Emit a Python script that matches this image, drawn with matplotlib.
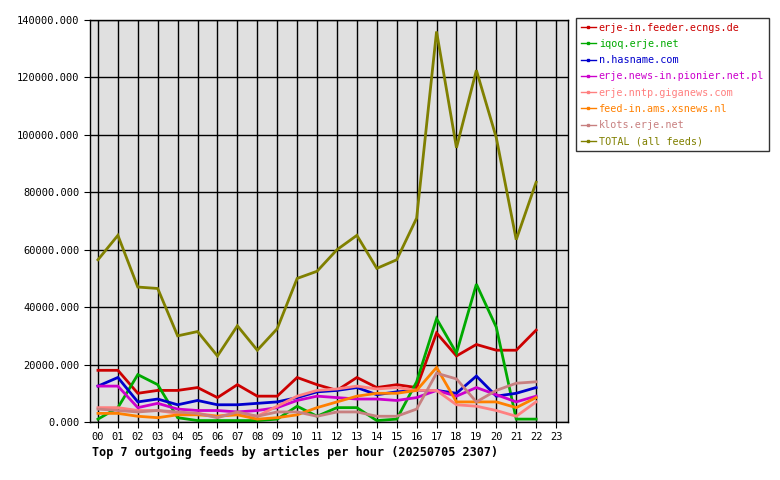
import matplotlib
matplotlib.use("Agg")
import matplotlib.pyplot as plt
from matplotlib.ticker import FuncFormatter

hours = list(range(23))
hour_labels = ["%02d" % h for h in range(24)]

feeds = ["erje-in.feeder.ecngs.de", "iqoq.erje.net", "n.hasname.com",
         "erje.news-in.pionier.net.pl", "erje.nntp.giganews.com",
         "feed-in.ams.xsnews.nl", "klots.erje.net", "TOTAL (all feeds)"]
colors = ["#cc0000", "#00aa00", "#0000cc", "#cc00cc", "#ff8080",
          "#ff8000", "#c88080", "#808000"]

ecngs = [18000, 18000, 10000, 11000, 11000, 12000, 8500, 13000, 9000, 9000, 15500, 13000,
         11000, 15500, 12000, 13000, 12000, 31000, 23000, 27000, 25000, 25000, 32000]
iqoq = [1000, 5000, 16500, 13000, 1500, 500, 500, 500, 500, 1000, 5500, 2000,
        5000, 5000, 500, 1000, 14000, 36000, 24000, 48000, 33000, 1000, 1000]
hasname = [12500, 15500, 7000, 8000, 6000, 7500, 6000, 6000, 6500, 7000, 8500, 10500,
           11000, 12000, 9500, 10500, 11000, 11000, 10000, 16000, 9000, 10000, 12000]
pionier = [12500, 12500, 5000, 6500, 4500, 4000, 4000, 3500, 4000, 5000, 7500, 9000,
           8500, 8000, 8000, 7500, 8500, 11000, 9000, 12000, 9500, 7000, 9000]
giganews = [5000, 5000, 4000, 4000, 3000, 3000, 2000, 3000, 2000, 5500, 9000, 11000,
            11500, 12500, 11500, 12000, 11000, 11000, 6000, 5500, 4000, 2000, 7000]
xsnews = [3000, 3000, 2000, 1500, 2500, 2500, 2000, 2500, 1000, 1500, 2500, 5000,
          7000, 9000, 10000, 10000, 11000, 19000, 7000, 7000, 7000, 5000, 8500]
klots = [4500, 4000, 3500, 4000, 3500, 3000, 1500, 3500, 2000, 3500, 3500, 2000,
         3500, 3500, 2000, 2000, 4500, 17000, 15000, 7000, 11000, 13500, 14000]
total = [56500, 65000, 47000, 46500, 30000, 31500, 23000, 33500, 25000, 32500, 50000, 52500,
         60000, 65000, 53500, 56500, 71000, 136000, 95500, 122500, 99000, 63500, 83500]

series = [ecngs, iqoq, hasname, pionier, giganews, xsnews, klots, total]

plt.rcParams["font.family"] = "DejaVu Sans Mono"
fig = plt.figure(figsize=(7.8, 4.8), dpi=100)
ax = fig.add_axes([90 / 780, 58 / 480, 478 / 780, 402 / 480])
ax.set_facecolor("#e0e0e0")

for vals, c in zip(series, colors):
    ax.plot(hours, vals, color=c, lw=2, solid_joinstyle="miter")

ax.set_xlim(-0.4, 23.6)
ax.set_ylim(0, 140000)
ax.set_xticks(range(24))
ax.set_xticklabels(hour_labels, fontsize=7.5)
ax.set_yticks(range(0, 140001, 20000))
ax.yaxis.set_major_formatter(FuncFormatter(lambda v, p: "%d.000" % v))
ax.tick_params(labelsize=7.5, length=4, color="black")
ax.grid(True, color="black", lw=1)
ax.set_axisbelow(True)
for s in ax.spines.values():
    s.set_linewidth(1)

fig.text(92 / 780, 1 - 452 / 480, "Top 7 outgoing feeds by articles per hour (20250705 2307)",
         fontsize=8.5, fontweight="bold", va="center")

handles = [plt.Line2D([0], [0], color=c, lw=1, marker="s", markersize=2) for c in colors]
leg = fig.legend(handles, feeds, loc="upper left", bbox_to_anchor=(576 / 780, 1 - 18 / 480),
                 fontsize=7.3, frameon=True, fancybox=False, edgecolor="black",
                 handlelength=1.5, handletextpad=0.3, labelspacing=0.62, borderpad=0.45,
                 borderaxespad=0)
leg.get_frame().set_linewidth(1)
for t, c in zip(leg.get_texts(), colors):
    t.set_color(c)

fig.savefig("out.png", dpi=100)
